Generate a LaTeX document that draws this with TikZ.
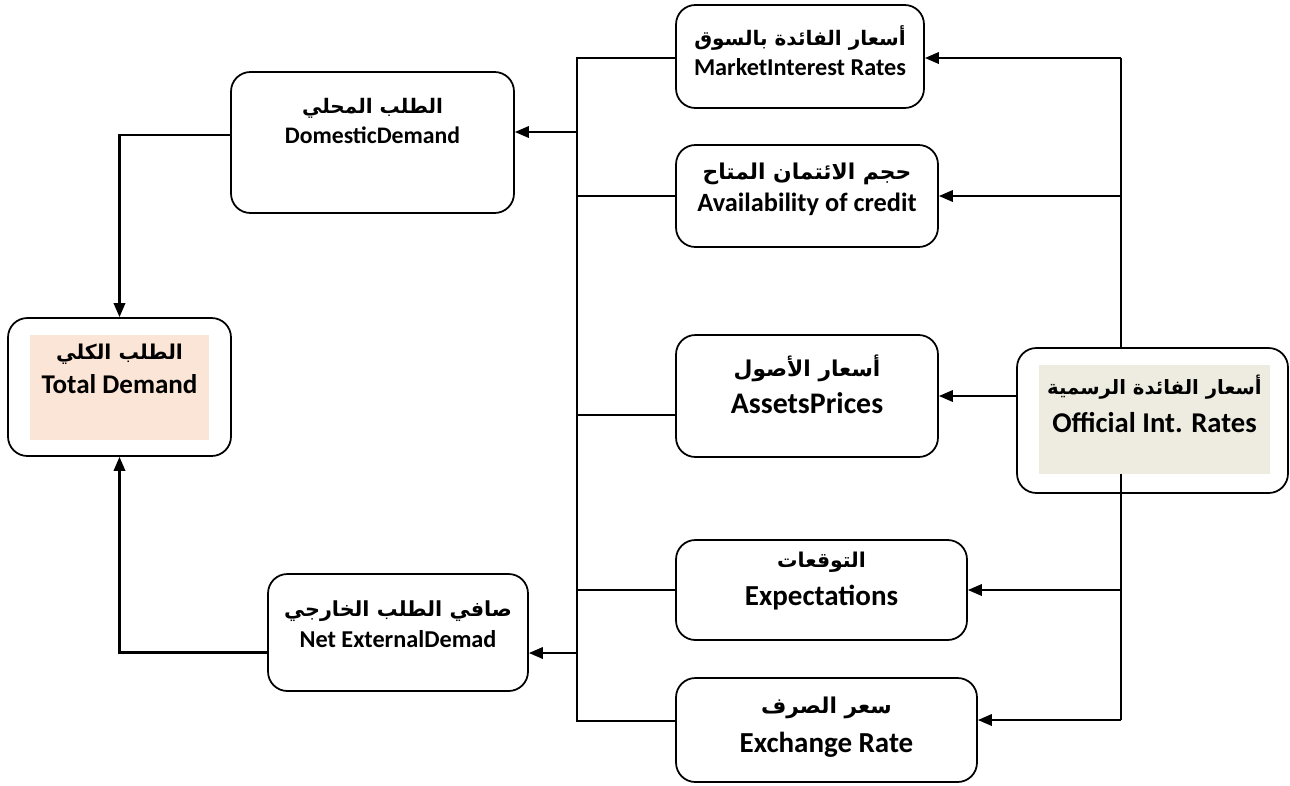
\documentclass[tikz,border=0pt]{standalone}
\usepackage{fontspec}
\setmainfont{Carlito}
\newfontfamily\arabicfont[Script=Arabic]{DejaVu Sans}
\TeXXeTstate=1
\usetikzlibrary{arrows.meta}
\definecolor{tdfill}{HTML}{FBE5D6}
\definecolor{offfill}{HTML}{EEECE1}
\newcommand{\arsize}[1]{\arabicfont\bfseries\fontsize{#1}{#1}\selectfont}
\begin{document}
\begin{tikzpicture}[x=0.02cm,y=-0.02cm,
  box/.style={draw,fill=white,rounded corners=11pt,line width=1pt},
  lab/.style={align=center,inner sep=0pt},
  arr/.style={-{Triangle[length=8pt,width=6.5pt]},line width=1.3pt},
  ln/.style={line width=0.8pt}]
\useasboundingbox (0,0) rectangle (1290,785);

\node[box,minimum width=4.46cm,minimum height=2.76cm] (td) at (119.5,387) {};
\node[fill=tdfill,minimum width=3.58cm,minimum height=2.1cm] (tdbg) at (119.5,387.5) {};
\node[lab,font=\bfseries\fontsize{15.4}{19.5}\selectfont] (tdt) at (119.5,369) {{\arsize{11.6}\beginR الطلب الكلي\endR}\\Total Demand};

\node[box,minimum width=5.66cm,minimum height=2.82cm] (dom) at (372.5,142.5) {};
\node[lab,font=\bfseries\fontsize{13.5}{17.5}\selectfont] (domt) at (372.5,121) {{\arsize{11.4}\beginR الطلب المحلي\endR}\\DomesticDemand};

\node[box,minimum width=5.2cm,minimum height=2.34cm] (net) at (398,632.5) {};
\node[lab,font=\bfseries\fontsize{13.8}{17.5}\selectfont] (nett) at (398,624) {{\arsize{11.8}\beginR صافي الطلب الخارجي\endR}\\Net ExternalDemad};

\node[box,minimum width=4.96cm,minimum height=2.06cm] (mkt) at (800,56.5) {};
\node[lab,font=\bfseries\fontsize{13.8}{17}\selectfont] (mktt) at (800,51) {{\arsize{11.4}\beginR أسعار الفائدة بالسوق\endR}\\MarketInterest Rates};

\node[box,minimum width=5.24cm,minimum height=2.04cm] (avl) at (807,196) {};
\node[lab,font=\bfseries\fontsize{15}{18}\selectfont] (avlt) at (807,189) {{\arsize{12.4}\beginR حجم الائتمان المتاح\endR}\\Availability of credit};

\node[box,minimum width=5.24cm,minimum height=2.44cm] (ast) at (807,396) {};
\node[lab,font=\bfseries\fontsize{17}{21}\selectfont] (astt) at (807,384) {{\arsize{12.4}\beginR أسعار الأصول\endR}\\AssetsPrices};

\node[box,minimum width=5.82cm,minimum height=2cm] (exp) at (821.5,590) {};
\node[lab,font=\bfseries\fontsize{16.5}{21.5}\selectfont] (expt) at (821.5,581) {{\arsize{11.6}\beginR التوقعات\endR}\\Expectations};

\node[box,minimum width=6.02cm,minimum height=2.08cm] (xch) at (826.5,730) {};
\node[lab,font=\bfseries\fontsize{16.5}{22.5}\selectfont] (xcht) at (826.5,727) {{\arsize{12.4}\beginR سعر الصرف\endR}\\Exchange Rate};

\node[box,minimum width=5.42cm,minimum height=2.9cm] (off) at (1152.5,420.5) {};
\node[fill=offfill,minimum width=4.62cm,minimum height=2.18cm] (offbg) at (1154.5,419.5) {};
\node[lab,font=\bfseries\fontsize{16.3}{21.5}\selectfont] (offt) at (1154.5,404) {{\arsize{11.2}\beginR أسعار الفائدة الرسمية\endR}\\Official Int. Rates};

\coordinate (lbt) at (577,58);
\coordinate (lbb) at (577,721);
\coordinate (rbt) at (1121,58);
\coordinate (rbb) at (1121,720);
\coordinate (astl) at (577,415);
\coordinate (domin) at (577,132);
\coordinate (netin) at (577,653);

\draw[ln] (mkt.west |- lbt) -- (lbt) -- (lbb) -- (lbb -| xch.west);
\draw[ln] (avl.west) -- (avl.west -| lbt);
\draw[ln] (astl) -- (astl -| ast.west);
\draw[ln] (exp.west) -- (exp.west -| lbt);
\draw[arr] (domin) -- (domin -| dom.east);
\draw[arr] (netin) -- (netin -| net.east);

\draw[arr] ([yshift=0.15cm]dom.west) -| (td.north);
\draw[arr] ([yshift=-0.4cm]net.west) -| (td.south);

\draw[ln] (rbt) -- (rbt |- off.north);
\draw[ln] (rbt |- offbg.south) -- (rbb);
\draw[arr] (rbt) -- (rbt -| mkt.east);
\draw[arr] (avl.east -| rbt) -- (avl.east);
\draw[arr] (ast.east -| off.west) -- (ast.east);
\draw[arr] (exp.east -| rbt) -- (exp.east);
\draw[arr] (rbb) -- (rbb -| xch.east);
\end{tikzpicture}
\end{document}
